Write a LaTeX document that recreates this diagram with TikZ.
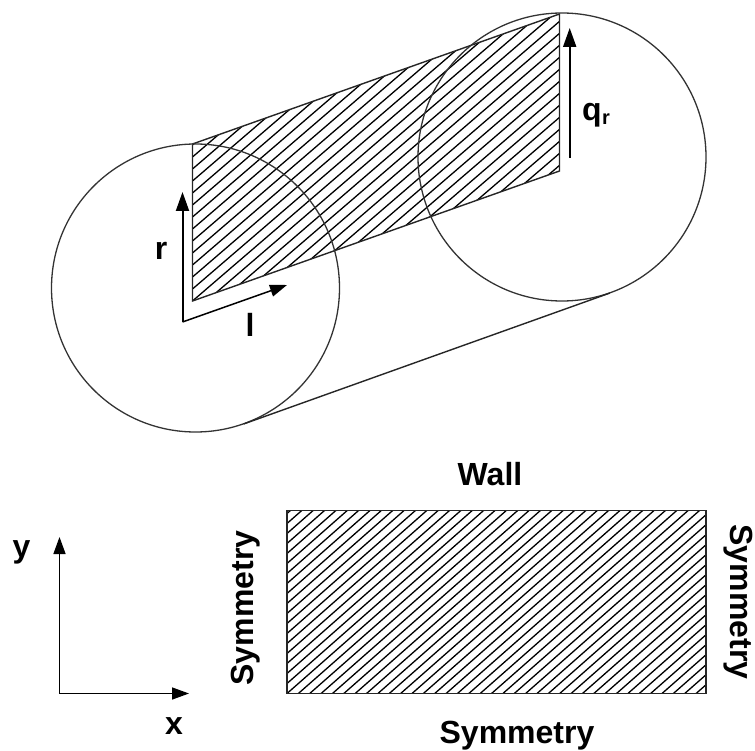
\documentclass[tikz,border=0pt]{standalone}
\usepackage{fontspec}
\setmainfont{Liberation Sans}
\usetikzlibrary{arrows.meta}
\tikzset{
  outline/.style={draw=black!85,line width=1.4pt},
  hatchline/.style={draw=black,line width=1.3pt},
  disc/.style={circle,draw=black!80,line width=1.3pt,minimum size=288pt,inner sep=0pt},
  bigarrow/.style={draw=black,line width=2pt,-{Triangle[length=19pt,width=13pt]}},
  axisarrow/.style={draw=black,line width=1.5pt,-{Triangle[length=17pt,width=12pt]}},
  lab/.style={inner sep=0pt,anchor=base,font=\fontsize{32}{32}\selectfont\bfseries},
  sublab/.style={inner sep=0pt,anchor=base west,font=\fontsize{20}{20}\selectfont\bfseries}
}
\begin{document}
\begin{tikzpicture}[x=1pt,y=-1pt]
\useasboundingbox (0,0) rectangle (755,751);
% parallelogram corners
\coordinate (pa) at (192.5,144);
\coordinate (pb) at (559.5,14);
\coordinate (pc) at (559.5,171);
\coordinate (pd) at (192.5,301);
\begin{scope}
  \clip (pa) -- (pb) -- (pc) -- (pd) -- cycle;
  \foreach \i in {-16,...,14}
    \draw[hatchline] (192.5,301-12*\i) -- ++(400,-344);
\end{scope}
\draw[outline] (pa) -- (pb) -- (pc) -- (pd) -- cycle;
% cylinder
\node[disc] (cl) at (195.5,288) {};
\node[disc] (cr) at (562,157) {};
\coordinate (tl) at (243.6,424);
\coordinate (tr) at (610,293);
\draw[outline] (tl) -- (tr);
% arrows in the cylinder
\coordinate (o) at (182.5,322);
\coordinate (rt) at (182.5,192);
\coordinate (lt) at (287,285);
\coordinate (qs) at (569.7,158);
\coordinate (qt) at (569.7,28);
\draw[bigarrow] (o) -- (rt);
\draw[axisarrow] (o) -- (lt);
\draw[bigarrow] (qs) -- (qt);
\node[lab] (rl) at (161,260) {r};
\node[lab] (ll) at (250,337) {l};
\node[lab,anchor=base west] (ql) at (582,121) {q};
\node[sublab] (qsub) at (ql.base east) [yshift=-4pt] {r};
% rectangle
\coordinate (ra) at (287,510.5);
\coordinate (rb) at (706,510.5);
\coordinate (rc) at (706,693.5);
\coordinate (rd) at (287,693.5);
\begin{scope}
  \clip (ra) -- (rb) -- (rc) -- (rd) -- cycle;
  \foreach \i in {-38,...,19}
    \draw[hatchline] (287,693.5-10*\i) -- ++(500,-440);
\end{scope}
\draw[outline] (ra) -- (rb) -- (rc) -- (rd) -- cycle;
% axes
\coordinate (ao) at (59.5,693.5);
\coordinate (ay) at (59.5,537);
\coordinate (ax) at (189,693.5);
\draw[axisarrow] (ao) -- (ay);
\draw[axisarrow] (ao) -- (ax);
\node[lab] (yl) at (21.5,557) {y};
\node[lab] (xl) at (174,734) {x};
% boundary labels
\node[lab] (wall) at (490,485.5) {Wall};
\node[lab] (sb) at (517,743.5) {Symmetry};
\node[lab,rotate=90] (sl) at (253,608) {Symmetry};
\node[lab,rotate=-90] (sr) at (730.5,602) {Symmetry};
\end{tikzpicture}
\end{document}
